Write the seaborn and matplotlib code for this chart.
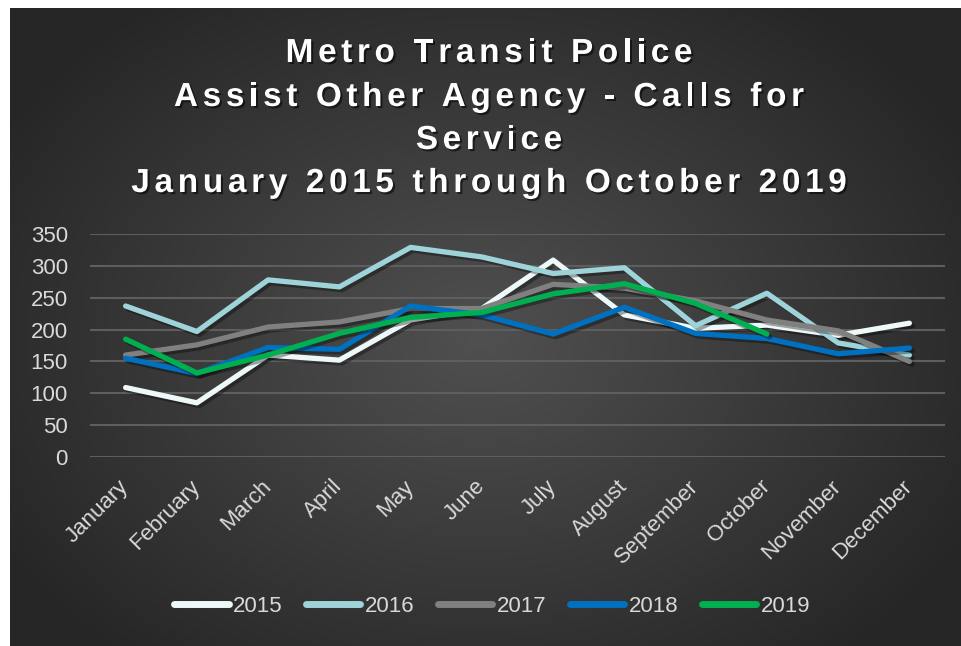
import numpy as np
import pandas as pd
import matplotlib
matplotlib.use("Agg")
import matplotlib.pyplot as plt
import matplotlib.patheffects as pe
from matplotlib.font_manager import FontProperties
from matplotlib.lines import Line2D
import seaborn as sns

months = ["January", "February", "March", "April", "May", "June", "July",
          "August", "September", "October", "November", "December"]
calls_2015 = [109, 85, 160, 152, 215, 233, 309, 223, 202, 207, 191, 210]
calls_2016 = [237, 197, 278, 267, 329, 314, 288, 297, 206, 257, 179, 160]
calls_2017 = [160, 176, 204, 212, 233, 233, 271, 265, 245, 215, 198, 150]
calls_2018 = [155, 131, 172, 169, 237, 223, 193, 235, 194, 186, 162, 171]
calls_2019 = [185, 132, 160, 194, 219, 227, 256, 272, 241, 193]
years = ["2015", "2016", "2017", "2018", "2019"]
series = [calls_2015, calls_2016, calls_2017, calls_2018, calls_2019]
colors = ["#eef8f8", "#9ed4d9", "#808080", "#0070c0", "#00b050"]
yticks = [0, 50, 100, 150, 200, 250, 300, 350]
title_lines = ["Metro Transit Police", "Assist Other Agency - Calls for",
               "Service", "January 2015 through October 2019"]

rows = []
for yr, vals in zip(years, series):
    for i, v in enumerate(vals):
        rows.append({"month_idx": i, "calls": v, "year": yr})
df = pd.DataFrame(rows)

sns.set_theme(style="dark")
plt.rcParams['font.family'] = ['Liberation Sans', 'DejaVu Sans']

W, H = 961, 646
fig = plt.figure(figsize=(W / 100, H / 100), dpi=100)
fig.patch.set_facecolor("white")

# background panel with radial gradient
bg = fig.add_axes([10 / W, 0, 1 - 10 / W, 1 - 8 / H])
bg.set_axis_off()
yy, xx = np.mgrid[0:638, 0:951]
cx, cy = 470, 330
r = np.sqrt(((xx - cx) / 560.0) ** 2 + ((yy - cy) / 420.0) ** 2)
r = np.clip(r, 0, 1)
c0 = np.array([0x50, 0x50, 0x50]) / 255.0
c1 = np.array([0x26, 0x26, 0x26]) / 255.0
img = c0[None, None, :] * (1 - r[..., None]) + c1[None, None, :] * r[..., None]
bg.imshow(img, aspect="auto", extent=[0, 1, 0, 1], origin="upper")
bg.set_xlim(0, 1)
bg.set_ylim(0, 1)

ax = fig.add_axes([90 / W, 1 - 457 / H, 855 / W, 223 / H])
ax.set_facecolor("none")
ax.patch.set_alpha(0)

sns.lineplot(data=df, x="month_idx", y="calls", hue="year", palette=colors,
             hue_order=years, linewidth=3.8, ax=ax, legend=False, sort=False)
for line in ax.lines:
    line.set_solid_capstyle("round")
    line.set_solid_joinstyle("round")
    line.set_path_effects([pe.SimpleLineShadow(offset=(2, -2), shadow_color="black", alpha=0.35),
                           pe.Normal()])

ax.set_xlim(-0.5, 11.5)
ax.set_ylim(0, 350)
ax.set_yticks(yticks)
ax.set_yticklabels([str(t) for t in yticks], color="#d9d9d9", fontsize=16)
ax.set_xticks(range(12))
ax.set_xticklabels(months, rotation=45, ha="right", va="center", rotation_mode="anchor",
                   color="#d9d9d9", fontsize=16)
ax.tick_params(axis="both", length=0)
ax.tick_params(axis="x", pad=19)
ax.tick_params(axis="y", pad=16)
ax.grid(axis="y", color="#5e5e5e", linewidth=1.5)
ax.grid(axis="x", visible=False)
for s in ax.spines.values():
    s.set_visible(False)
ax.set_xlabel("")
ax.set_ylabel("")

# title with letter spacing
renderer = fig.canvas.get_renderer()
fp = FontProperties(family="Liberation Sans", weight="bold", size=24)


def text_w(s):
    w, h, d = renderer.get_text_width_height_descent(s, fp, ismath=False)
    return w


def advance(c):
    return text_w("H" + c + "H") - text_w("HH")


spacing = 4.6
shadow = [pe.withSimplePatchShadow(offset=(1.5, -1.5), shadow_rgbFace="black", alpha=0.55)]
ys = [62, 106, 149, 192]
for t, yp in zip(title_lines, ys):
    advs = [advance(c) for c in t]
    total = sum(advs) + spacing * (len(t) - 1)
    x = 489 - total / 2
    for c, a in zip(t, advs):
        if c != " ":
            fig.text(x / W, 1 - yp / H, c, ha="left", va="baseline",
                     fontproperties=fp, color="white", path_effects=shadow)
        x += a + spacing

# legend
handles = [Line2D([0], [0], color=c, lw=5, solid_capstyle="round") for c in colors]
leg = fig.legend(handles, years, loc="center", bbox_to_anchor=(492 / W, 1 - 606 / H),
                 ncol=5, frameon=False, fontsize=16, handlelength=2.45,
                 handletextpad=0.2, columnspacing=1.05)
for txt in leg.get_texts():
    txt.set_color("#d9d9d9")

fig.savefig("out.png", dpi=100, facecolor=fig.get_facecolor())
